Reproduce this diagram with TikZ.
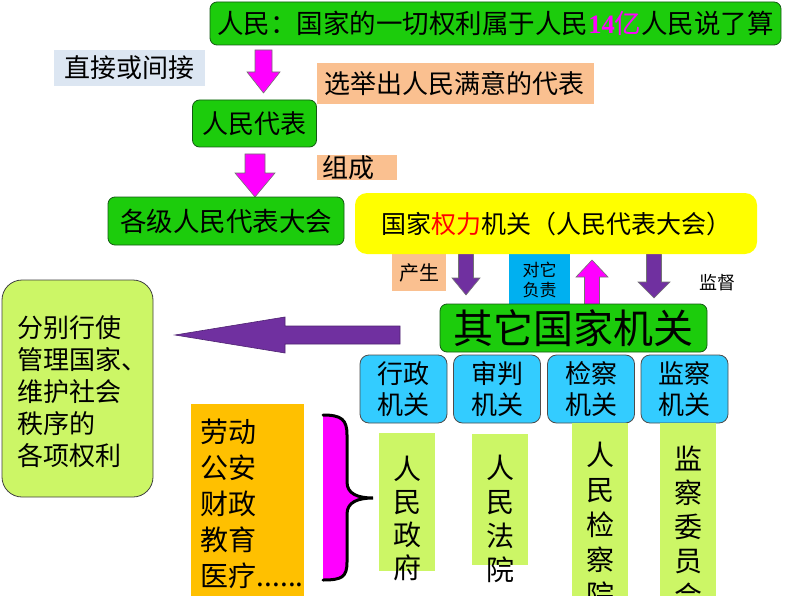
\documentclass[tikz,border=0pt]{standalone}
\usepackage{fontspec}
\setmainfont{Noto Sans CJK SC}
\newfontfamily\tnr{Liberation Serif}
\definecolor{gbox}{RGB}{28,204,12}
\definecolor{gline}{RGB}{20,90,20}
\definecolor{grayblue}{RGB}{220,230,242}
\definecolor{peach}{RGB}{250,192,144}
\definecolor{mag}{RGB}{255,0,255}
\definecolor{purp}{RGB}{112,48,160}
\definecolor{ybox}{RGB}{255,255,0}
\definecolor{bbox}{RGB}{51,204,255}
\definecolor{cyanbox}{RGB}{0,176,240}
\definecolor{lgreen}{RGB}{204,246,102}
\definecolor{obox}{RGB}{255,192,0}
\definecolor{redtxt}{RGB}{255,0,0}
\newcommand\blkdn[7]{%
  \filldraw[fill=#7,draw=black!55,line width=0.6pt]
  ({#1-#4},#2) -- ({#1+#4},#2) -- ({#1+#4},#6) -- ({#1+#5},#6) -- (#1,#3)
  -- ({#1-#5},#6) -- ({#1-#4},#6) -- cycle;}
\tikzset{
  bx/.style={rectangle,inner sep=0pt,outer sep=0pt},
  gnode/.style={bx,fill=gbox,draw=gline,line width=0.8pt,rounded corners=7pt},
  bnode/.style={bx,fill=bbox,draw=black!70,line width=0.8pt,rounded corners=9pt,
     minimum width=87pt,minimum height=68pt,align=center,font=\fontsize{26}{31}\selectfont},
  vbox/.style={bx,fill=lgreen,minimum width=56pt},
  vtxt/.style={bx,align=center},
}
\begin{document}
\begin{tikzpicture}[x=1pt,y=-1pt]
\clip (0,0) rectangle (794,596);
\fill[white] (0,0) rectangle (794,596);

% top row
\node[gnode,minimum width=571pt,minimum height=43pt,font=\fontsize{26.5}{30}\selectfont] (top) at (495.5,23.5)
  {人民：国家的一切权利属于人民{\color{mag}\tnr\bfseries 14}{\color{mag}亿}人民说了算};
\node[bx,fill=grayblue,minimum width=151pt,minimum height=36pt,font=\fontsize{26}{30}\selectfont] (zj) at (129.5,68) {直接或间接};
\blkdn{263.5}{50}{93}{8.5}{16.5}{72}{mag}
\node[bx,fill=peach,minimum width=277pt,minimum height=41pt,font=\fontsize{26}{30}\selectfont,anchor=west,text width=270pt,align=left] (xj) at (317,83.5) {\hspace*{4pt}选举出人民满意的代表};
\node[gnode,minimum width=124pt,minimum height=47pt,font=\fontsize{26}{30}\selectfont] (rmdb) at (254.5,123.5) {人民代表};
\blkdn{255}{154}{197}{10}{20}{173}{mag}
\node[bx,fill=peach,minimum width=80pt,minimum height=23pt,font=\fontsize{26}{30}\selectfont,anchor=west] (zc) at (317,167.5) {\hspace*{3pt}组成\hspace*{20pt}};
\node[gnode,minimum width=236pt,minimum height=48pt,font=\fontsize{26.5}{30}\selectfont] (gj) at (226,221) {各级人民代表大会};

% arrows between yellow and other organs
\blkdn{466}{250}{295}{7.5}{14}{278}{purp}
\blkdn{654}{250}{298}{7.5}{16}{282}{purp}
\node[bx,fill=peach,minimum width=54pt,minimum height=37pt,font=\fontsize{20}{24}\selectfont] (cs) at (419,272.5) {产生};
\node[bx,fill=cyanbox,minimum width=61pt,minimum height=52pt,font=\fontsize{17}{20}\selectfont,align=center,anchor=north] (dt) at (539.5,254) {对它\\负责};
\filldraw[fill=mag,draw=black!55,line width=0.6pt]
  (584.5,310) -- (599.5,310) -- (599.5,277) -- (608,277) -- (592,260) -- (576,277) -- (584.5,277) -- cycle;
\node[bx,font=\fontsize{18}{22}\selectfont] (jd) at (717,283) {监督};

\node[bx,fill=ybox,minimum width=402pt,minimum height=61pt,rounded corners=12pt,font=\fontsize{25}{30}\selectfont] (yel) at (556,223.5)
  {国家{\color{redtxt}权力}机关（人民代表大会）};

% other organs
\node[gnode,minimum width=267pt,minimum height=48pt,font=\fontsize{40}{42}\selectfont] (qt) at (573.5,328) {其它国家机关};
\node[bnode] (xz) at (403.5,389) {行政\\机关};
\node[bnode] (sp) at (497,389) {审判\\机关};
\node[bnode] (jc) at (591,389) {检察\\机关};
\node[bnode] (jcj) at (684.5,389) {监察\\机关};

% big left arrow
\filldraw[fill=purp,draw=purp!70!black,line width=0.6pt]
  (400,326) -- (285,326) -- (285,317) -- (175,335) -- (285,353) -- (285,344) -- (400,344) -- cycle;

% left box
\node[bx,fill=lgreen,draw=black!75,line width=0.8pt,rounded corners=20pt,minimum width=151pt,minimum height=217pt] (lb) at (77.5,388.5) {};
\node[bx,align=left,anchor=west,font=\fontsize{26}{32}\selectfont] (lbt) at (17,392) {分别行使\\管理国家、\\维护社会\\秩序的\\各项权利};

% orange box
\node[bx,fill=obox,minimum width=113pt,minimum height=200pt,anchor=north] (ob) at (247.5,404) {};
\node[bx,align=left,anchor=west,font=\fontsize{28}{36}\selectfont] (obt) at (200,504) {劳动\\公安\\财政\\教育\\医疗\hspace{1pt}......};

% brace
\fill[mag] (323,415) .. controls (342,415) and (347,420) .. (347,435) -- (347,482)
  .. controls (347,494) and (358,498) .. (373,498)
  .. controls (358,498) and (347,502) .. (347,514) -- (347,562)
  .. controls (347,577) and (342,580) .. (323,580) -- cycle;
\draw[black,line width=3pt,line cap=round] (323,415) .. controls (342,415) and (347,420) .. (347,435) -- (347,482)
  .. controls (347,494) and (358,498) .. (373,498)
  .. controls (358,498) and (347,502) .. (347,514) -- (347,562)
  .. controls (347,577) and (342,580) .. (323,580);

% vertical boxes
\node[vbox,minimum height=138pt] (zf) at (407,502) {};
\node[vtxt,font=\fontsize{28}{33}\selectfont] (zft) at (407,518) {人\\民\\政\\府};
\node[vbox,minimum height=131pt] (fy) at (500,499.5) {};
\node[vtxt,font=\fontsize{28}{34}\selectfont] (fyt) at (500,519) {人\\民\\法\\院};
\node[vbox,minimum height=180pt,anchor=north] (jcy) at (600,423) {};
\node[vtxt,font=\fontsize{28}{35}\selectfont] (jcyt) at (600,525) {人\\民\\检\\察\\院};
\node[vbox,minimum height=180pt,anchor=north] (jwh) at (688,423) {};
\node[vtxt,font=\fontsize{28}{34.3}\selectfont] (jwht) at (688,527) {监\\察\\委\\员\\会};
\end{tikzpicture}
\end{document}
